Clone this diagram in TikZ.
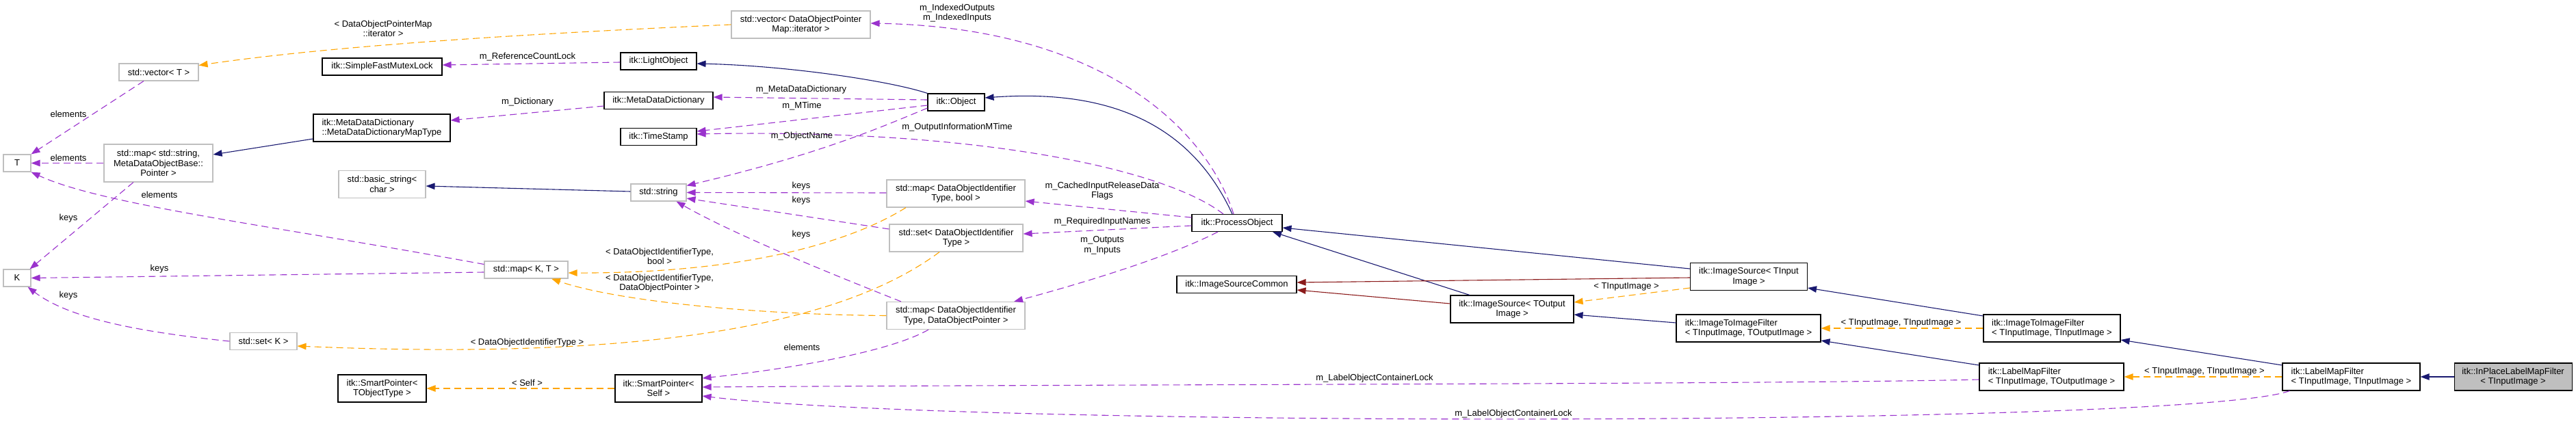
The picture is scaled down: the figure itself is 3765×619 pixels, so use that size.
\documentclass[tikz,border=0pt]{standalone}
\usepackage{fontspec}
\setmainfont{Liberation Sans}
\usetikzlibrary{arrows.meta}
\definecolor{inhblue}{HTML}{191970}
\definecolor{usepurple}{HTML}{9A32CD}
\definecolor{tplorange}{HTML}{FFA500}
\definecolor{privred}{HTML}{8B1A1A}
\definecolor{boxgray}{HTML}{BFBFBF}
\newcommand\dgfont{\fontsize{13pt}{14.5pt}\selectfont}
\begin{document}
\begin{tikzpicture}[x=1pt,y=-1pt,
  box/.style={draw=black,line width=1.1pt,fill=white,inner sep=0pt,align=center,font=\dgfont},
  gbox/.style={box,draw=boxgray},
  lbl/.style={inner sep=0pt,align=center,font=\dgfont},
  tip/.style={-{Triangle[length=13pt,width=9.5pt]}},
  inh/.style={draw=inhblue,line width=1.1pt,tip},
  priv/.style={draw=privred,line width=1.1pt,tip},
  use/.style={draw=usepurple,line width=1.1pt,dash pattern=on 10pt off 6pt,tip},
  tpl/.style={draw=tplorange,line width=1.1pt,dash pattern=on 10pt off 6pt,tip}]
\useasboundingbox (0,0) rectangle (3765,619);
% nodes
\node[gbox,minimum width=40,minimum height=25] (T) at (25,238.5) {T};
\node[gbox,minimum width=40,minimum height=25] (K) at (25,406.5) {K};
\node[gbox,minimum width=116,minimum height=25] (vecT) at (232,105.5) {std::vector< T >};
\node[gbox,minimum width=159,minimum height=55] (mapStr) at (231.5,238.5) {std::map< std::string,\\ MetaDataObjectBase::\\ Pointer >};
\node[box,minimum width=175,minimum height=25] (sfml) at (558.5,97.5) {itk::SimpleFastMutexLock};
\node[box,align=left,minimum width=200,minimum height=40] (mddmt) at (558,187) {itk::MetaDataDictionary\\ ::MetaDataDictionaryMapType};
\node[gbox,minimum width=127,minimum height=40] (bstr) at (558.5,269.5) {std::basic\_string<\\ char >};
\node[gbox,minimum width=98,minimum height=25] (setK) at (385,499) {std::set< K >};
\node[box,minimum width=129,minimum height=40] (spto) at (558.5,568) {itk::SmartPointer<\\ TObjectType >};
\node[gbox,minimum width=203,minimum height=40] (vecDOPM) at (1170.5,36) {std::vector< DataObjectPointer\\ Map::iterator >};
\node[box,minimum width=111,minimum height=25] (light) at (962.5,89.5) {itk::LightObject};
\node[box,minimum width=159,minimum height=25] (mdd) at (962.5,147) {itk::MetaDataDictionary};
\node[box,minimum width=111,minimum height=25] (ts) at (962.5,200) {itk::TimeStamp};
\node[gbox,minimum width=81,minimum height=25] (str) at (962.5,281.5) {std::string};
\node[gbox,minimum width=122,minimum height=25] (mapKT) at (769,394.5) {std::map< K, T >};
\node[box,minimum width=127,minimum height=40] (sps) at (962.5,568) {itk::SmartPointer<\\ Self >};
\node[box,minimum width=83,minimum height=25] (obj) at (1397.5,149.5) {itk::Object};
\node[gbox,minimum width=202,minimum height=40] (mapBool) at (1397,283) {std::map< DataObjectIdentifier\\ Type, bool >};
\node[gbox,minimum width=195,minimum height=40] (setDOIT) at (1397.5,348) {std::set< DataObjectIdentifier\\ Type >};
\node[gbox,minimum width=202,minimum height=40] (mapDOP) at (1397,461.5) {std::map< DataObjectIdentifier\\ Type, DataObjectPointer >};
\node[box,minimum width=132,minimum height=25] (po) at (1808,326) {itk::ProcessObject};
\node[box,minimum width=175,minimum height=25] (isc) at (1807.5,416) {itk::ImageSourceCommon};
\node[box,minimum width=171,minimum height=40] (isti) at (2556,404.5) {itk::ImageSource< TInput\\ Image >};
\node[box,minimum width=180,minimum height=40] (isto) at (2210,452) {itk::ImageSource< TOutput\\ Image >};
\node[box,align=left,minimum width=211,minimum height=40] (itifo) at (2555.5,480) {itk::ImageToImageFilter\\ < TInputImage, TOutputImage >};
\node[box,align=left,minimum width=200,minimum height=40] (itifi) at (2999,480) {itk::ImageToImageFilter\\ < TInputImage, TInputImage >};
\node[box,align=left,minimum width=211,minimum height=40] (lmfo) at (2998.5,551) {itk::LabelMapFilter\\ < TInputImage, TOutputImage >};
\node[box,align=left,minimum width=201,minimum height=40] (lmfi) at (3436.5,551) {itk::LabelMapFilter\\ < TInputImage, TInputImage >};
\node[box,fill=boxgray,minimum width=172,minimum height=40] (inplace) at (3673,551) {itk::InPlaceLabelMapFilter\\ < TInputImage >};
% edges
\draw[use] ([xshift=-22pt]vecT.south) -- (T.north east);
\draw[use] (mapStr.west) -- (T.east);
\draw[use] ([yshift=8pt]mapKT.west) .. controls (400,330) and (150,300) .. (T.south east);
\draw[use] ([xshift=-36.5pt]mapStr.south) -- ([xshift=-2pt]K.north east);
\draw[use] ([yshift=-3.5pt]mapKT.west) -- (K.east);
\draw[use] (setK.west) .. controls (200,485) and (100,465) .. ([xshift=-5pt]K.south east);
\draw[inh] ([yshift=-16pt]mddmt.west) -- ([yshift=12.5pt]mapStr.east);
\draw[tpl] (vecDOPM.west) .. controls (800,48) and (500,65) .. ([yshift=10pt]vecT.east);
\draw[use] ([yshift=-1.5pt]light.west) -- ([yshift=2.5pt]sfml.east);
\draw[use] ([yshift=-8pt]mdd.west) -- ([yshift=11pt]mddmt.east);
\draw[inh] (obj.north west) .. controls (1300,118) and (1150,96) .. ([yshift=-3.5pt]light.east);
\draw[use] ([yshift=3.5pt]obj.west) -- ([yshift=5pt]mdd.east);
\draw[use] ([yshift=-4.5pt]obj.west) -- ([yshift=8pt]ts.east);
\draw[use] ([xshift=-20pt]po.north) .. controls (1700,245) and (1420,188) .. ([yshift=4pt]ts.east);
\draw[use] ([yshift=-8.5pt]obj.west) .. controls (1290,185) and (1200,225) .. ([yshift=-3pt]str.north east);
\draw[inh] ([yshift=1.5pt]str.west) -- ([yshift=-2.5pt]bstr.east);
\draw[use] ([yshift=1pt]mapBool.west) -- (str.east);
\draw[use] ([yshift=13pt]setDOIT.west) -- ([yshift=-8.5pt]str.east);
\draw[use] ([xshift=-80pt]mapDOP.north) .. controls (1150,375) and (1050,330) .. ([xshift=26pt]str.south);
\draw[tpl] ([xshift=-73pt]mapBool.south) .. controls (1250,350) and (1100,400) .. ([yshift=-4.5pt]mapKT.east);
\draw[tpl] (mapDOP.west) .. controls (1100,460) and (900,440) .. ([xshift=37pt]mapKT.south);
\draw[tpl] ([xshift=-24.5pt]setDOIT.south) .. controls (1250,460) and (1000,530) .. ([yshift=-7pt]setK.east);
\draw[use] ([xshift=-40pt]mapDOP.south) .. controls (1300,515) and (1150,540) .. ([yshift=15pt]sps.east);
\draw[tpl] (sps.west) -- (spto.east);
\draw[use] ([yshift=-4pt]lmfo.west) .. controls (2600,562) and (1600,562) .. ([yshift=2pt]sps.east);
\draw[use] ([xshift=-90pt]lmfi.south) .. controls (3200,625) and (1400,625) .. ([yshift=-11pt]sps.east);
\draw[use] ([xshift=-5pt]po.north) .. controls (1760,180) and (1600,40) .. ([yshift=2pt]vecDOPM.east);
\draw[inh] ([xshift=-7pt]po.north) .. controls (1740,180) and (1620,130) .. ([yshift=6.5pt]obj.east);
\draw[use] ([yshift=8pt]po.west) -- ([yshift=-11pt]mapBool.east);
\draw[use] ([yshift=-4pt]po.west) -- ([yshift=6pt]setDOIT.east);
\draw[use] ([xshift=-28pt]po.south) .. controls (1700,380) and (1560,420) .. ([xshift=85pt]mapDOP.north);
\draw[inh] ([yshift=11.5pt]isti.west) -- ([yshift=-7pt]po.east);
\draw[inh] ([xshift=-62pt]isto.north) -- ([xshift=52pt]po.south);
\draw[priv] ([yshift=-1.5pt]isti.west) -- ([yshift=3pt]isc.east);
\draw[priv] ([yshift=8pt]isto.west) -- ([yshift=-8pt]isc.east);
\draw[tpl] ([yshift=-16.5pt]isti.west) -- ([yshift=10pt]isto.east);
\draw[inh] ([yshift=8pt]itifo.west) -- ([yshift=-8pt]isto.east);
\draw[inh] ([yshift=18pt]itifi.west) -- ([yshift=-16.5pt]isti.east);
\draw[tpl] (itifi.west) -- (itifo.east);
\draw[inh] ([yshift=17pt]lmfo.west) -- ([yshift=-18pt]itifo.east);
\draw[inh] ([yshift=17pt]lmfi.west) -- ([yshift=-17pt]itifi.east);
\draw[tpl] (lmfi.west) -- (lmfo.east);
\draw[inh] (inplace.west) -- (lmfi.east);
% labels
\node[lbl] (l1) at (100,167) {elements};
\node[lbl] (l2) at (100,231) {elements};
\node[lbl] (l3) at (233,285) {elements};
\node[lbl] (l4) at (100,319) {keys};
\node[lbl] (l5) at (233,393) {keys};
\node[lbl] (l6) at (100,432) {keys};
\node[lbl] (l7) at (560,42) {< DataObjectPointerMap\\ ::iterator >};
\node[lbl] (l8) at (771,83) {m\_ReferenceCountLock};
\node[lbl] (l9) at (771,149) {m\_Dictionary};
\node[lbl] (l10) at (1171,131) {m\_MetaDataDictionary};
\node[lbl] (l11) at (1172,155) {m\_MTime};
\node[lbl] (l12) at (1172,199) {m\_ObjectName};
\node[lbl] (l13) at (1399,186.5) {m\_OutputInformationMTime};
\node[lbl] (l14) at (1399,19) {m\_IndexedOutputs\\ m\_IndexedInputs};
\node[lbl] (l15) at (1171,272.5) {keys};
\node[lbl] (l16) at (1171,293) {keys};
\node[lbl] (l17) at (1171,343) {keys};
\node[lbl] (l18) at (964,375) {< DataObjectIdentifierType,\\ bool >};
\node[lbl] (l19) at (964,414) {< DataObjectIdentifierType,\\ DataObjectPointer >};
\node[lbl] (l20) at (770.5,501) {< DataObjectIdentifierType >};
\node[lbl] (l21) at (1172,507.6) {elements};
\node[lbl] (l22) at (770.5,560) {< Self >};
\node[lbl] (l23) at (1611,279) {m\_CachedInputReleaseData\\ Flags};
\node[lbl] (l24) at (1611,324) {m\_RequiredInputNames};
\node[lbl] (l25) at (1611,359) {m\_Outputs\\ m\_Inputs};
\node[lbl] (l26) at (2377,419) {< TInputImage >};
\node[lbl] (l27) at (2778.5,472) {< TInputImage, TInputImage >};
\node[lbl] (l28) at (3222,543) {< TInputImage, TInputImage >};
\node[lbl] (l29) at (2009,553) {m\_LabelObjectContainerLock};
\node[lbl] (l30) at (2212,605) {m\_LabelObjectContainerLock};
\end{tikzpicture}
\end{document}
